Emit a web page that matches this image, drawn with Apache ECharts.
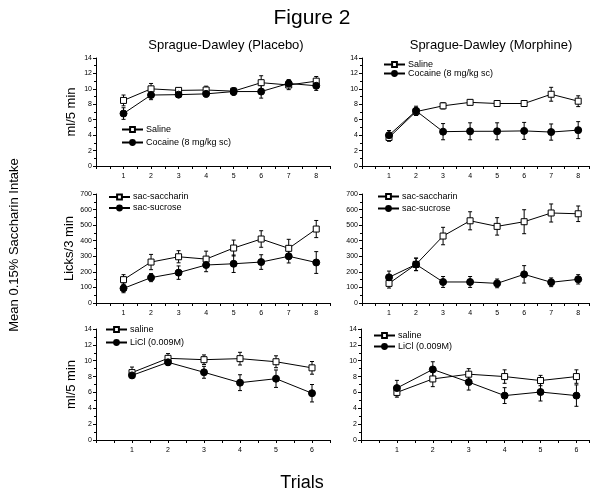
<!DOCTYPE html>
<html>
<head>
<meta charset="utf-8">
<script src="https://cdn.jsdelivr.net/npm/echarts@6/dist/echarts.min.js"></script>
<style>
html, body { margin: 0; padding: 0; background: #fff; }
#main { width: 592px; height: 491px; }
</style>
</head>
<body>
<div id="main"></div>
<script>
// trials
var trials8 = [1, 2, 3, 4, 5, 6, 7, 8];
var trials6 = [1, 2, 3, 4, 5, 6];

// ml/5 min - placebo
var plaSaline = [8.5, 10.0, 9.8, 9.85, 9.7, 10.8, 10.5, 11.0];
var plaSalineErr = [0.7, 0.7, 0.3, 0.5, 0.4, 0.9, 0.6, 0.6];
var plaCocaine = [6.8, 9.2, 9.25, 9.35, 9.65, 9.65, 10.7, 10.4];
var plaCocaineErr = [0.75, 0.6, 0.35, 0.4, 0.5, 0.85, 0.5, 0.6];

// ml/5 min - morphine
var morSaline = [3.7, 7.05, 7.8, 8.25, 8.1, 8.1, 9.3, 8.4];
var morSalineErr = [0.5, 0.5, 0.4, 0.3, 0.3, 0.3, 0.9, 0.7];
var morCocaine = [4.0, 7.15, 4.45, 4.5, 4.5, 4.55, 4.4, 4.65];
var morCocaineErr = [0.6, 0.6, 1.05, 1.1, 1.1, 1.1, 1.05, 1.1];

// licks/3 min
var sacPla = [150, 263, 297, 282, 353, 411, 351, 475];
var sacPlaErr = [32, 49, 39, 51, 51, 53, 58, 55];
var sucPla = [94, 163, 195, 244, 252, 263, 300, 260];
var sucPlaErr = [28, 26, 43, 43, 56, 47, 43, 70];
var sacMor = [126, 248, 430, 528, 492, 522, 578, 573];
var sacMorErr = [30, 40, 56, 58, 56, 77, 58, 50];
var sucMor = [165, 248, 135, 135, 126, 184, 133, 152];
var sucMorErr = [40, 40, 35, 35, 28, 56, 28, 30];

// LiCl
var licPlaSaline = [8.5, 10.3, 10.13, 10.26, 9.87, 9.1];
var licPlaSalineErr = [0.7, 0.6, 0.6, 0.8, 0.75, 0.8];
var licPlaLiCl = [8.15, 9.8, 8.54, 7.23, 7.73, 5.9];
var licPlaLiClErr = [0.3, 0.4, 0.75, 1.0, 1.1, 1.1];
var licMorSaline = [6.0, 7.7, 8.3, 8.0, 7.5, 8.0];
var licMorSalineErr = [0.6, 0.97, 0.7, 0.85, 0.65, 0.85];
var licMorLiCl = [6.55, 8.9, 7.3, 5.6, 6.05, 5.6];
var licMorLiClErr = [0.97, 0.97, 1.0, 1.0, 1.13, 1.35];

var FONT = 'Liberation Sans, Arial, sans-serif';

function pts(xs, ys) {
    var out = [];
    for (var i = 0; i < xs.length; i++) out.push([xs[i], ys[i]]);
    return out;
}
function errPts(xs, ys, es) {
    var out = [];
    for (var i = 0; i < xs.length; i++) out.push([xs[i], ys[i] - es[i], ys[i] + es[i]]);
    return out;
}

// 误差线
function renderErr(params, api) {
    var x = api.value(0);
    var p1 = api.coord([x, api.value(2)]);
    var p2 = api.coord([x, api.value(1)]);
    var w = 2;
    var st = { stroke: '#000', lineWidth: 1 };
    return {
        type: 'group',
        children: [
            { type: 'line', shape: { x1: p1[0], y1: p1[1], x2: p2[0], y2: p2[1] }, style: st },
            { type: 'line', shape: { x1: p1[0] - w, y1: p1[1], x2: p1[0] + w, y2: p1[1] }, style: st },
            { type: 'line', shape: { x1: p2[0] - w, y1: p2[1], x2: p2[0] + w, y2: p2[1] }, style: st }
        ]
    };
}

var grids = [
    { left: 96, top: 58, width: 234, height: 108 },
    { left: 362, top: 58, width: 230, height: 108 },
    { left: 96, top: 194, width: 234, height: 109 },
    { left: 362, top: 194, width: 230, height: 109 },
    { left: 96, top: 329, width: 234, height: 111 },
    { left: 361, top: 329, width: 231, height: 111 }
];
var xMax = [8.5, 8.4, 8.5, 8.4, 6.5, 6.35];

var xAxes = [];
var yAxes = [];
for (var g = 0; g < 6; g++) {
    xAxes.push({
        type: 'value', gridIndex: g, min: 0, max: xMax[g], interval: 0.5,
        splitLine: { show: false },
        axisLine: { lineStyle: { color: '#000', width: 1 } },
        axisTick: { length: 3, lineStyle: { color: '#000' } },
        axisLabel: {
            color: '#000', fontSize: 7, fontFamily: FONT, margin: 7,
            formatter: function (v) { return (v > 0 && v % 1 === 0) ? String(v) : ''; }
        }
    });
    var licks = (g == 2 || g == 3);
    var nm = '';
    if (g == 0 || g == 4) nm = 'ml/5 min';
    if (g == 2) nm = 'Licks/3 min';
    yAxes.push({
        type: 'value', gridIndex: g, min: 0, max: licks ? 700 : 14, interval: licks ? 100 : 2,
        name: nm, nameLocation: 'middle', nameGap: 18, nameRotate: 90,
        nameTextStyle: { color: '#000', fontSize: 13, fontFamily: FONT },
        splitLine: { show: false },
        axisLine: { show: true, lineStyle: { color: '#000', width: 1 } },
        axisTick: { length: 3, lineStyle: { color: '#000' } },
        minorTick: { show: true, splitNumber: 2, length: 2, lineStyle: { color: '#000' } },
        axisLabel: { color: '#000', fontSize: 7, fontFamily: FONT, margin: 4 }
    });
}

var series = [];
function addPair(g, xs, name, ys, es, open) {
    series.push({
        type: 'custom', name: name + ' err', xAxisIndex: g, yAxisIndex: g, z: 1,
        renderItem: renderErr, encode: { x: 0, y: [1, 2] },
        data: errPts(xs, ys, es)
    });
    series.push({
        type: 'line', name: name, xAxisIndex: g, yAxisIndex: g, z: 3,
        symbol: open ? 'rect' : 'circle',
        symbolSize: open ? 6 : 7,
        lineStyle: { color: '#000', width: 1 },
        itemStyle: open ? { color: '#fff', borderColor: '#000', borderWidth: 1 } : { color: '#000', borderColor: '#000', borderWidth: 1 },
        data: pts(xs, ys)
    });
}

addPair(0, trials8, 'Saline', plaSaline, plaSalineErr, true);
addPair(0, trials8, 'Cocaine (8 mg/kg sc)', plaCocaine, plaCocaineErr, false);
addPair(1, trials8, 'Saline', morSaline, morSalineErr, true);
addPair(1, trials8, 'Cocaine (8 mg/kg sc)', morCocaine, morCocaineErr, false);
addPair(2, trials8, 'sac-saccharin', sacPla, sacPlaErr, true);
addPair(2, trials8, 'sac-sucrose', sucPla, sucPlaErr, false);
addPair(3, trials8, 'sac-saccharin', sacMor, sacMorErr, true);
addPair(3, trials8, 'sac-sucrose', sucMor, sucMorErr, false);
addPair(4, trials6, 'saline', licPlaSaline, licPlaSalineErr, true);
addPair(4, trials6, 'LiCl (0.009M)', licPlaLiCl, licPlaLiClErr, false);
addPair(5, trials6, 'saline', licMorSaline, licMorSalineErr, true);
addPair(5, trials6, 'LiCl (0.009M)', licMorLiCl, licMorLiClErr, false);

function mkLegend(names, left, top, lh, gap) {
    return {
        orient: 'vertical', left: left, top: top, padding: 0,
        itemWidth: 21, itemHeight: 6, itemGap: gap,
        selectedMode: false,
        textStyle: { color: '#000', fontSize: 9, fontFamily: FONT, lineHeight: lh, padding: [0, 0, 0, -2] },
        data: names
    };
}

var option = {
    animation: false,
    backgroundColor: '#fff',
    title: [
        { text: 'Figure 2', left: 307, top: 3, textAlign: 'center', textStyle: { fontSize: 21, fontWeight: 'normal', color: '#000', fontFamily: FONT } },
        { text: 'Sprague-Dawley (Placebo)', left: 221, top: 34, textAlign: 'center', textStyle: { fontSize: 13, fontWeight: 'normal', color: '#000', fontFamily: FONT } },
        { text: 'Sprague-Dawley (Morphine)', left: 486, top: 34, textAlign: 'center', textStyle: { fontSize: 13, fontWeight: 'normal', color: '#000', fontFamily: FONT } },
        { text: 'Trials', left: 297, top: 469, textAlign: 'center', textStyle: { fontSize: 18, fontWeight: 'normal', color: '#000', fontFamily: FONT } }
    ],
    graphic: [
        {
            type: 'text', x: 14, y: 245, rotation: Math.PI / 2,
            style: { text: 'Mean 0.15% Saccharin Intake', fontSize: 13, fontFamily: FONT, fill: '#000', textAlign: 'center', textVerticalAlign: 'middle' }
        }
    ],
    legend: [
        mkLegend(['Saline', 'Cocaine (8 mg/kg sc)'], 121, 124, 11, 2),
        mkLegend(['Saline', 'Cocaine (8 mg/kg sc)'], 383, 60, 9, 0),
        mkLegend(['sac-saccharin', 'sac-sucrose'], 108, 192, 10, 1),
        mkLegend(['sac-saccharin', 'sac-sucrose'], 377, 191, 11, 1),
        mkLegend(['saline', 'LiCl (0.009M)'], 105, 324, 11, 2),
        mkLegend(['saline', 'LiCl (0.009M)'], 373, 330, 11, 0)
    ],
    grid: grids,
    xAxis: xAxes,
    yAxis: yAxes,
    series: series
};

var myChart = echarts.init(document.getElementById('main'));
myChart.setOption(option);
</script>
</body>
</html>
